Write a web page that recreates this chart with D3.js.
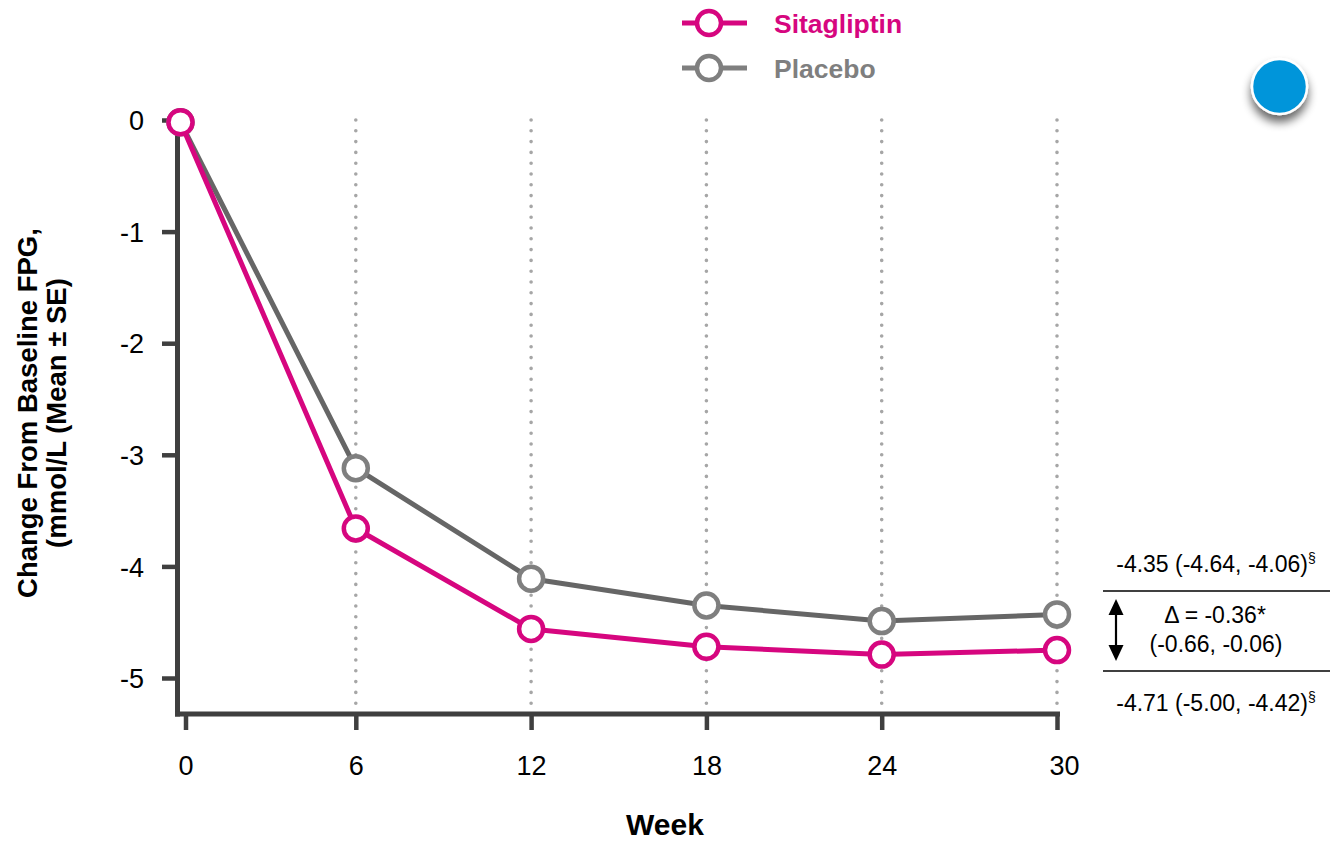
<!DOCTYPE html>
<html>
<head>
<meta charset="utf-8">
<script src="https://cdn.jsdelivr.net/npm/d3@7"></script>
<style>
  html, body { margin: 0; padding: 0; background: #fff; }
  svg { display: block; font-family: "Liberation Sans", Arial, sans-serif; }
</style>
</head>
<body>
<svg id="chart" width="1339" height="842"></svg>
<script>
// Weeks of measurement
const weeks = [0, 6, 12, 18, 24, 30];
// Mean change from baseline FPG (mmol/L)
const sitagliptin = [-0.02, -3.66, -4.56, -4.72, -4.79, -4.75];
const placebo = [-0.02, -3.12, -4.11, -4.35, -4.49, -4.43];
const yTicks = [0, -1, -2, -3, -4, -5];
const seriesNames = ["Sitagliptin", "Placebo"];
const annotTop = "-4.35 (-4.64, -4.06)";
const annotDelta = ["\u0394 = -0.36*", "(-0.66, -0.06)"];
const annotBottom = "-4.71 (-5.00, -4.42)";

const colors = { sita: "#d6067f", placeboLine: "#666666", placeboMark: "#7f7f7f" };
const FONT = "'Liberation Sans', Arial, sans-serif";

const svg = d3.select("#chart");

const x = d3.scaleLinear().domain([0, 30]).range([180.5, 1057]);
const y = d3.scaleLinear().domain([0, -5]).range([120, 678]);
const yBottom = 714;

// defs: shadow for the corner badge
const defs = svg.append("defs");
const f = defs.append("filter").attr("id", "shadow").attr("x", "-60%").attr("y", "-60%").attr("width", "220%").attr("height", "220%");
f.append("feGaussianBlur").attr("in", "SourceAlpha").attr("stdDeviation", 5).attr("result", "b");
f.append("feOffset").attr("in", "b").attr("dx", 0).attr("dy", 7).attr("result", "o");
f.append("feComponentTransfer").attr("in", "o").attr("result", "o2")
  .append("feFuncA").attr("type", "linear").attr("slope", 0.6);
const m = f.append("feMerge");
m.append("feMergeNode").attr("in", "o2");
m.append("feMergeNode").attr("in", "SourceGraphic");

// vertical dotted guides
svg.append("g").selectAll("line").data(weeks.filter(w => w > 0)).join("line")
  .attr("x1", d => x(d)).attr("x2", d => x(d))
  .attr("y1", 120).attr("y2", 706)
  .attr("stroke", "#a6a6a6").attr("stroke-width", 3.6)
  .attr("stroke-linecap", "round").attr("stroke-dasharray", "0 10.8");

// axes
const axisColor = "#3f3f3f";
const yAxis = svg.append("g").attr("transform", "translate(177.5,0)")
  .call(d3.axisLeft(y).tickValues(yTicks).tickSize(15.5).tickPadding(18).tickFormat(d => String(d)));
yAxis.select(".domain").remove();
yAxis.selectAll(".tick line").attr("stroke", axisColor).attr("stroke-width", 4.5);
yAxis.selectAll(".tick text").attr("font-size", 27).attr("fill", "#000")
  .attr("font-family", FONT).attr("dy", "0.36em");
svg.append("line").attr("x1", 177.5).attr("x2", 177.5).attr("y1", 116).attr("y2", yBottom + 2.5)
  .attr("stroke", axisColor).attr("stroke-width", 5);

const xAxis = svg.append("g").attr("transform", `translate(0,${yBottom})`)
  .call(d3.axisBottom(x).tickValues(weeks).tickSize(16).tickPadding(26).tickFormat(d => String(d)));
xAxis.select(".domain").remove();
xAxis.selectAll(".tick").filter(d => d === 0).attr("transform", "translate(186,0)");
xAxis.selectAll(".tick text").filter(d => d === 30).attr("dx", 7);
xAxis.selectAll(".tick line").attr("stroke", axisColor).attr("stroke-width", 4.5);
xAxis.selectAll(".tick text").attr("font-size", 27).attr("fill", "#000")
  .attr("font-family", FONT);
svg.append("line").attr("x1", 175).attr("x2", 1060).attr("y1", yBottom).attr("y2", yBottom)
  .attr("stroke", axisColor).attr("stroke-width", 5);

// axis titles
svg.append("text").attr("x", 665).attr("y", 835).attr("text-anchor", "middle")
  .attr("font-size", 30).attr("font-weight", "bold").text("Week");
const yt = svg.append("text").attr("transform", "translate(37,413) rotate(-90)")
  .attr("text-anchor", "middle").attr("font-size", 27.5).attr("font-weight", "bold");
yt.append("tspan").attr("x", 0).attr("y", 0).text("Change From Baseline FPG,");
yt.append("tspan").attr("x", 0).attr("y", 29).text("(mmol/L (Mean \u00b1 SE)");

// series
const line = d3.line().x((d, i) => x(weeks[i])).y(d => y(d));
const series = [
  { vals: placebo, line: colors.placeboLine, mark: colors.placeboMark },
  { vals: sitagliptin, line: colors.sita, mark: colors.sita }
];
series.forEach(s => {
  svg.append("path").datum(s.vals).attr("d", line).attr("fill", "none")
    .attr("stroke", s.line).attr("stroke-width", 5).attr("stroke-linejoin", "round");
  svg.append("g").selectAll("circle").data(s.vals).join("circle")
    .attr("cx", (d, i) => x(weeks[i])).attr("cy", d => y(d)).attr("r", 12)
    .attr("fill", "#fff").attr("stroke", s.mark).attr("stroke-width", 4.5);
});

// legend
const legend = [
  { name: seriesNames[0], color: colors.sita, y: 23 },
  { name: seriesNames[1], color: colors.placeboMark, y: 68 }
];
legend.forEach(l => {
  svg.append("line").attr("x1", 682).attr("x2", 747).attr("y1", l.y).attr("y2", l.y)
    .attr("stroke", l.color).attr("stroke-width", 5);
  svg.append("circle").attr("cx", 709).attr("cy", l.y).attr("r", 12)
    .attr("fill", "#fff").attr("stroke", l.color).attr("stroke-width", 4.5);
  svg.append("text").attr("x", 774).attr("y", l.y + 10).attr("font-size", 26.5)
    .attr("font-weight", "bold").attr("fill", l.color).text(l.name);
});

// corner badge
svg.append("circle").attr("cx", 1279.5).attr("cy", 86.5).attr("r", 27.5)
  .attr("fill", "#0095da").attr("stroke", "#fff").attr("stroke-width", 2.5)
  .attr("filter", "url(#shadow)");

// week-30 difference annotation
const ann = svg.append("g").attr("font-size", 23).attr("fill", "#000");
const t1 = ann.append("text").attr("x", 1216).attr("y", 572).attr("text-anchor", "middle");
t1.append("tspan").text(annotTop);
t1.append("tspan").attr("font-size", 14).attr("dy", -9).text("\u00a7");
ann.append("line").attr("x1", 1103).attr("x2", 1330).attr("y1", 591).attr("y2", 591)
  .attr("stroke", "#000").attr("stroke-width", 1.4);
ann.append("text").attr("x", 1215).attr("y", 623).attr("text-anchor", "middle").text(annotDelta[0]);
ann.append("text").attr("x", 1216).attr("y", 652).attr("text-anchor", "middle").text(annotDelta[1]);
ann.append("line").attr("x1", 1103).attr("x2", 1330).attr("y1", 671).attr("y2", 671)
  .attr("stroke", "#000").attr("stroke-width", 1.4);
const t2 = ann.append("text").attr("x", 1216).attr("y", 711).attr("text-anchor", "middle");
t2.append("tspan").text(annotBottom);
t2.append("tspan").attr("font-size", 14).attr("dy", -9).text("\u00a7");
// double-headed arrow
ann.append("line").attr("x1", 1116).attr("x2", 1116).attr("y1", 610).attr("y2", 650)
  .attr("stroke", "#000").attr("stroke-width", 2.2);
ann.append("path").attr("d", "M1116,599 L1108.5,615 L1123.5,615 Z").attr("fill", "#000");
ann.append("path").attr("d", "M1116,661 L1108.5,645 L1123.5,645 Z").attr("fill", "#000");
</script>
</body>
</html>
